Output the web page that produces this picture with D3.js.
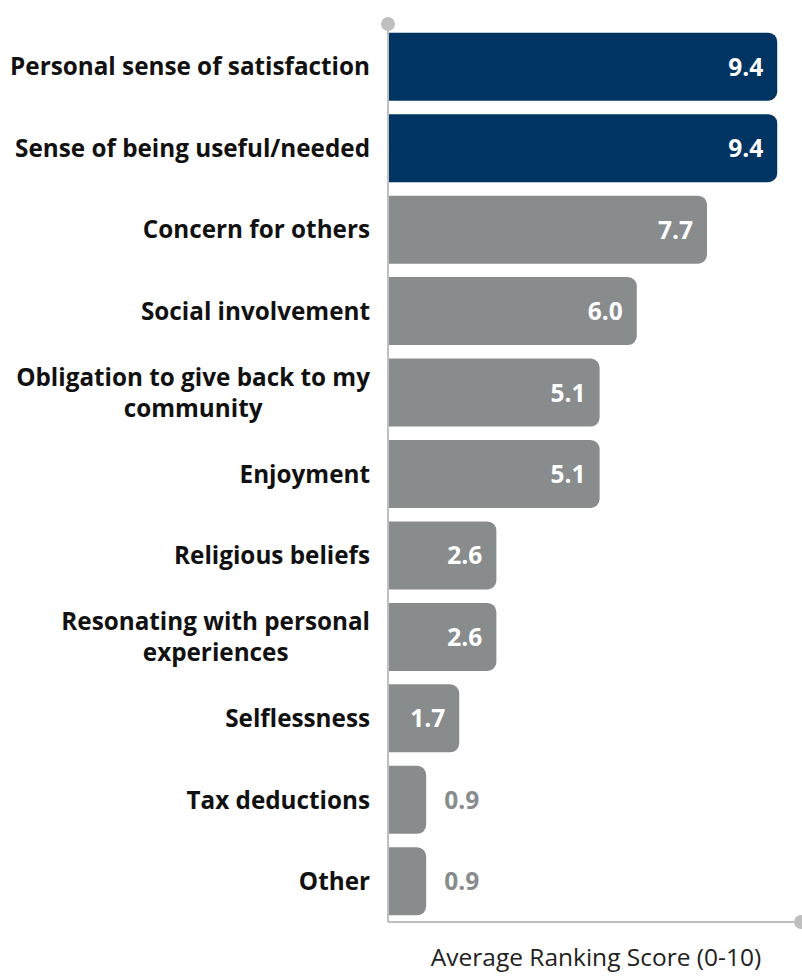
<!DOCTYPE html>
<html>
<head>
<meta charset="utf-8">
<script src="https://cdn.jsdelivr.net/npm/d3@7"></script>
<style>
  html, body { margin: 0; padding: 0; background: #fff; }
  svg { display: block; }
</style>
</head>
<body>
<svg id="chart" width="802" height="978"></svg>
<script>
const categories = [
  ["Personal sense of satisfaction"],
  ["Sense of being useful/needed"],
  ["Concern for others"],
  ["Social involvement"],
  ["Obligation to give back to my", "community"],
  ["Enjoyment"],
  ["Religious beliefs"],
  ["Resonating with personal", "experiences"],
  ["Selflessness"],
  ["Tax deductions"],
  ["Other"]
];
const values = [9.4, 9.4, 7.7, 6.0, 5.1, 5.1, 2.6, 2.6, 1.7, 0.9, 0.9];
const highlighted = [true, true, false, false, false, false, false, false, false, false, false];
const axisTitle = "Average Ranking Score (0-10)";
const xDomain = [0, 10];

const svg = d3.select("#chart");
const NAVY = "#003462", GRAY = "#898c8d", AXIS = "#bfbfbf";

function textW(font, str, weight) {
  const t = svg.append("text").attr("font-family", font).attr("font-size", 20)
    .attr("font-weight", weight || 700).text(str);
  const w = t.node().getComputedTextLength();
  t.remove();
  return w;
}
const probe = "Personal sense of satisfaction";
const hasNarrow = Math.abs(textW("'Liberation Sans Narrow', monospace", probe) - textW("monospace", probe)) > 1;
const LABEL_FONT = hasNarrow ? "'Liberation Sans Narrow', 'Open Sans', sans-serif" : "'Open Sans', sans-serif";
const VALUE_FONT = "'Open Sans', sans-serif";

const x = d3.scaleLinear().domain(xDomain).range([389, 802]);
const y = d3.scaleBand().domain(d3.range(categories.length))
  .range([26, 922]).paddingInner(0.165).paddingOuter(0.0825);

function barPath(x0, y0, w, h, r) {
  r = Math.min(r, w, h / 2);
  const p = d3.path();
  p.moveTo(x0, y0);
  p.lineTo(x0 + w - r, y0);
  p.arcTo(x0 + w, y0, x0 + w, y0 + r, r);
  p.lineTo(x0 + w, y0 + h - r);
  p.arcTo(x0 + w, y0 + h, x0 + w - r, y0 + h, r);
  p.lineTo(x0, y0 + h);
  p.closePath();
  return p.toString();
}

// bars
svg.append("g").selectAll("path").data(values).join("path")
  .attr("d", (d, i) => barPath(x(0), y(i), x(d) - x(0), y.bandwidth(), 9))
  .attr("fill", (d, i) => highlighted[i] ? NAVY : GRAY);

// value labels
const inside = d => x(d) - x(0) > 50;
svg.append("g").selectAll("text").data(values).join("text")
  .attr("x", d => inside(d) ? x(d) - 14 : x(d) + 18)
  .attr("y", (d, i) => y(i) + y.bandwidth() / 2 + 9)
  .attr("text-anchor", d => inside(d) ? "end" : "start")
  .attr("font-family", VALUE_FONT).attr("font-weight", 700).attr("font-size", 24.5)
  .attr("fill", d => inside(d) ? "#fff" : GRAY)
  .text(d => d.toFixed(1));

// category labels
const baseW = textW(LABEL_FONT, probe);
const labelSize = Math.min(28, 20 * 360 / baseW);
const capH = labelSize * 0.72;
const lh = 31;
const labelG = svg.append("g");
categories.forEach((lines, i) => {
  const cy = y(i) + y.bandwidth() / 2;
  const t = labelG.append("text")
    .attr("font-family", LABEL_FONT).attr("font-weight", 700).attr("font-size", labelSize)
    .attr("fill", "#111").attr("text-anchor", "middle");
  lines.forEach((ln, j) => {
    t.append("tspan").attr("x", 0)
      .attr("y", cy + capH / 2 + (j - (lines.length - 1) / 2) * lh)
      .text(ln);
  });
  const maxW = d3.max(t.selectAll("tspan").nodes(), n => n.getComputedTextLength());
  t.selectAll("tspan").attr("x", 370 - maxW / 2);
});

// axes
svg.append("line").attr("x1", 388).attr("x2", 388).attr("y1", 24).attr("y2", 922)
  .attr("stroke", AXIS).attr("stroke-width", 2);
svg.append("line").attr("x1", 388).attr("x2", 802).attr("y1", 922).attr("y2", 922)
  .attr("stroke", AXIS).attr("stroke-width", 2);
svg.append("circle").attr("cx", 388).attr("cy", 24).attr("r", 7).attr("fill", AXIS);
svg.append("circle").attr("cx", 801).attr("cy", 922).attr("r", 7).attr("fill", AXIS);

// axis title
const titleW = textW("'Open Sans', sans-serif", axisTitle, 400);
svg.append("text").attr("x", 596).attr("y", 966).attr("text-anchor", "middle")
  .attr("font-family", "'Open Sans', sans-serif").attr("font-size", Math.min(24.5, 20 * 340 / titleW))
  .attr("fill", "#222")
  .text(axisTitle);
</script>
</body>
</html>
